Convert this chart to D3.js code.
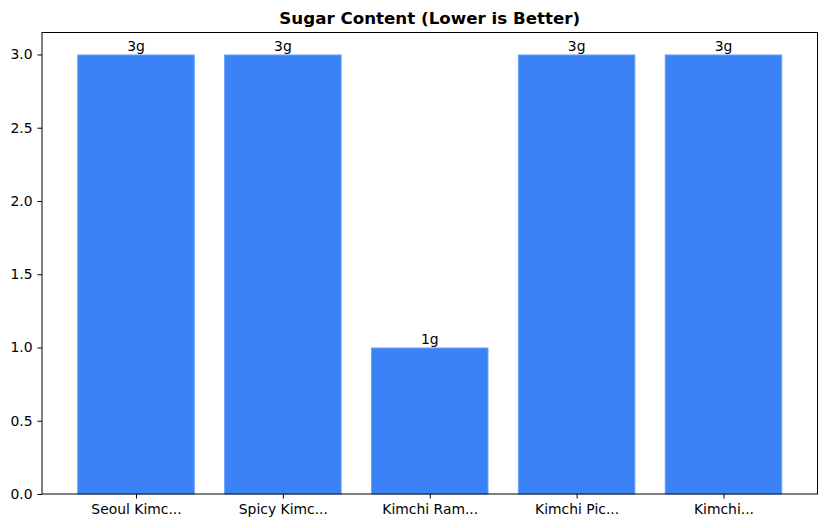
<!DOCTYPE html>
<html>
<head>
<meta charset="utf-8">
<script src="https://cdn.jsdelivr.net/npm/d3@7"></script>
<style>
  body { margin: 0; background: #fff; }
  svg { font-family: "DejaVu Sans", sans-serif; }
</style>
</head>
<body>
<svg width="826" height="528"></svg>
<script>
var products = ["Seoul Kimc...", "Spicy Kimc...", "Kimchi Ram...", "Kimchi Pic...", "Kimchi..."]
var sugar = [3, 3, 1, 3, 3]
var yTicks = [0, 0.5, 1, 1.5, 2, 2.5, 3]

var plotLeft = 42, plotRight = 817.5, plotTop = 32.5, plotBottom = 494
var svg = d3.select("svg")

// matplotlib-like margins: bars at integer positions, width 0.8
var xScale = d3.scaleLinear().domain([-0.64, products.length - 1 + 0.64]).range([plotLeft, plotRight])
var yScale = d3.scaleLinear().domain([0, 3.15]).range([plotBottom, plotTop])

svg.append("g")
  .selectAll("rect")
  .data(sugar)
  .enter()
  .append("rect")
  .attr("x", (d, i) => xScale(i - 0.4) + 0.5)
  .attr("width", xScale(0.8) - xScale(0) - 1)
  .attr("y", d => yScale(d) + 0.5)
  .attr("height", d => yScale(0) - yScale(d) - 0.5)
  .attr("fill", "#3b82f6")
  .attr("stroke", "#6aa1f8")
  .attr("stroke-width", 1)

svg.append("g")
  .selectAll("text")
  .data(sugar)
  .enter()
  .append("text")
  .attr("x", (d, i) => xScale(i))
  .attr("y", d => yScale(d) - 3)
  .attr("text-anchor", "middle")
  .attr("font-size", 13.9)
  .text(d => d + "g")

var xAxis = d3.axisBottom(xScale)
  .tickValues(d3.range(products.length))
  .tickFormat(i => products[i])
  .tickSizeOuter(0).tickSize(4.5).tickPadding(6)
svg.append("g").attr("id", "xAxis")
  .attr("transform", "translate(0," + plotBottom + ")")
  .call(xAxis)

var yAxis = d3.axisLeft(yScale)
  .tickValues(yTicks)
  .tickFormat(d3.format(".1f"))
  .tickSizeOuter(0).tickSize(4.5).tickPadding(5)
svg.append("g").attr("id", "yAxis")
  .attr("transform", "translate(" + plotLeft + ",0)")
  .call(yAxis)

svg.selectAll("#xAxis text, #yAxis text")
  .attr("font-size", 13.9).attr("fill", "#000").attr("font-family", "DejaVu Sans")
svg.selectAll(".domain").remove()

// axes frame
svg.append("rect")
  .attr("x", plotLeft).attr("y", plotTop)
  .attr("width", plotRight - plotLeft).attr("height", plotBottom - plotTop)
  .attr("fill", "none").attr("stroke", "#000").attr("stroke-width", 1)

svg.append("text")
  .attr("x", (plotLeft + plotRight) / 2)
  .attr("y", 24)
  .attr("text-anchor", "middle")
  .attr("font-size", 16.7)
  .attr("font-weight", "bold")
  .text("Sugar Content (Lower is Better)")
</script>
</body>
</html>
